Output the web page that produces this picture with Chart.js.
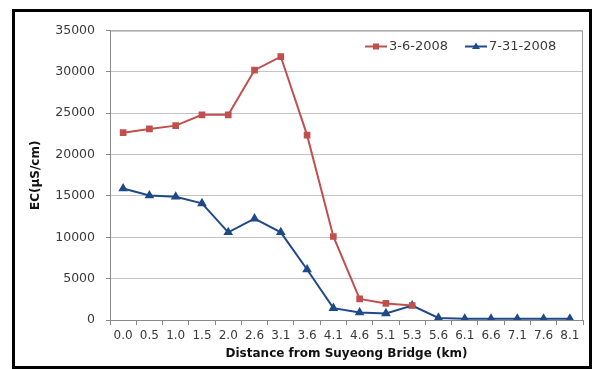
<!DOCTYPE html>
<html lang="en">
<head>
<meta charset="UTF-8">
<title>EC along Suyeong river</title>
<script src="https://cdn.jsdelivr.net/npm/chart.js"></script>
<style>
  body { margin: 0; background: #fff; }
  #frame { position: absolute; left: 12px; top: 9px; width: 574px; height: 354px; border: 3px solid #000; background: #fff; }
</style>
</head>
<body>
<div id="frame"><canvas id="ecChart" width="574" height="354"></canvas></div>
<script>
// distance labels (km) and EC values
const distances = ['0.0','0.5','1.0','1.5','2.0','2.6','3.1','3.6','4.1','4.6','5.1','5.3','5.6','6.1','6.6','7.1','7.6','8.1'];
const ecMarch = [22650, 23100, 23500, 24800, 24800, 30200, 31850, 22350, 10100, 2550, 2000, 1750, null, null, null, null, null, null];
const ecJuly  = [15900, 15050, 14900, 14100, 10600, 12250, 10600, 6100, 1430, 900, 800, 1750, 250, 150, 150, 150, 150, 150];
const seriesNames = ['3-6-2008', '7-31-2008'];
const yTicks = [0, 5000, 10000, 15000, 20000, 25000, 30000, 35000];

const RED = '#C0504D';
const BLUE = '#1F4A87';
const TEXT = '#3a3a3a';

// plot frame + legend drawn inside the plot area, like the Excel original
const framePlugin = {
  id: 'framePlugin',
  afterDraw(chart) {
    const { ctx, chartArea: a } = chart;
    ctx.save();
    ctx.strokeStyle = '#9a9a9a';
    ctx.lineWidth = 1;
    ctx.beginPath();
    ctx.moveTo(a.left, a.top + 0.5);
    ctx.lineTo(a.right - 0.5, a.top + 0.5);
    ctx.lineTo(a.right - 0.5, a.bottom);
    ctx.stroke();

    // legend
    ctx.font = '13px "DejaVu Sans"';
    ctx.textBaseline = 'middle';
    const y = a.top + 16;
    let x = a.left + 255;
    chart.data.datasets.forEach((ds) => {
      ctx.strokeStyle = ds.borderColor;
      ctx.fillStyle = ds.borderColor;
      ctx.lineWidth = 2;
      ctx.beginPath();
      ctx.moveTo(x, y);
      ctx.lineTo(x + 22, y);
      ctx.stroke();
      const cx = x + 11;
      if (ds.pointStyle === 'rect') {
        ctx.fillRect(cx - 3, y - 3, 6, 6);
      } else {
        ctx.beginPath();
        ctx.moveTo(cx, y - 4);
        ctx.lineTo(cx + 4, y + 2.5);
        ctx.lineTo(cx - 4, y + 2.5);
        ctx.closePath();
        ctx.fill();
      }
      ctx.fillStyle = TEXT;
      ctx.textAlign = 'left';
      ctx.fillText(ds.label, x + 24, y);
      x += 24 + ctx.measureText(ds.label).width + 17;
    });
    ctx.restore();
  }
};

new Chart(document.getElementById('ecChart'), {
  type: 'line',
  data: {
    labels: distances,
    datasets: [
      {
        label: seriesNames[0],
        data: ecMarch,
        borderColor: RED,
        backgroundColor: RED,
        borderWidth: 2,
        pointStyle: 'rect',
        pointRadius: 3.3,
        pointHoverRadius: 3.3,
        tension: 0,
        spanGaps: false
      },
      {
        label: seriesNames[1],
        data: ecJuly,
        borderColor: BLUE,
        backgroundColor: BLUE,
        borderWidth: 2,
        pointStyle: 'triangle',
        pointRadius: 3.6,
        pointHoverRadius: 3.6,
        tension: 0
      }
    ]
  },
  options: {
    responsive: false,
    animation: false,
    layout: { padding: { left: 0, top: 8, right: 6, bottom: 0 } },
    plugins: {
      legend: { display: false },
      tooltip: { enabled: false }
    },
    scales: {
      x: {
        offset: true,
        afterFit(scale) { scale.height = 46; },
        grid: {
          offset: true,
          drawOnChartArea: false,
          drawTicks: true,
          tickLength: 5,
          color: '#8a8a8a'
        },
        border: { color: '#8a8a8a' },
        ticks: {
          color: TEXT,
          font: { family: 'DejaVu Sans', size: 12 },
          padding: 4,
          maxRotation: 0,
          autoSkip: false
        },
        title: {
          display: true,
          text: 'Distance from Suyeong Bridge (km)',
          color: '#111',
          font: { family: 'DejaVu Sans', size: 12, weight: 'bold' },
          padding: { top: 0, bottom: 5 }
        }
      },
      y: {
        min: 0,
        max: 35000,
        afterFit(scale) { scale.width = 95; },
        afterBuildTicks(scale) { scale.ticks = yTicks.map(v => ({ value: v })); },
        grid: {
          color: '#c4c4c4',
          drawTicks: true,
          tickLength: 4,
          tickColor: '#8a8a8a'
        },
        border: { color: '#8a8a8a' },
        ticks: {
          color: TEXT,
          font: { family: 'DejaVu Sans', size: 12.5 },
          padding: 11,
          callback: (v) => String(v)
        },
        title: {
          display: true,
          text: 'EC(μS/cm)',
          color: '#111',
          font: { family: 'DejaVu Sans', size: 12, weight: 'bold' },
          padding: { top: 14, bottom: 0 }
        }
      }
    }
  },
  plugins: [framePlugin]
});
</script>
</body>
</html>
